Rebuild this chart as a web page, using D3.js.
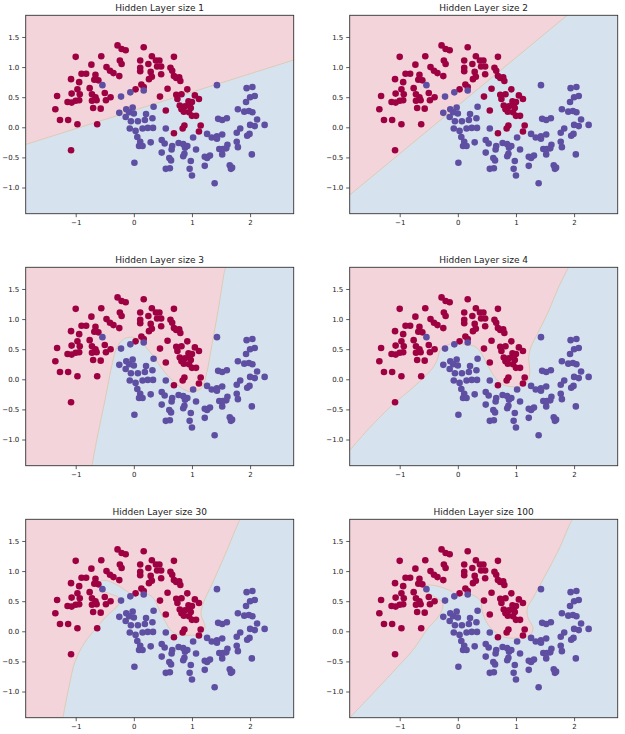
<!DOCTYPE html>
<html><head><meta charset="utf-8">
<script src="https://cdn.jsdelivr.net/npm/d3@7"></script>
<style>body{margin:0;background:#fff} svg text{font-family:"DejaVu Sans",sans-serif}</style>
</head><body><svg id="chart" width="625" height="734"></svg>
<script>
const titles = ["Hidden Layer size 1","Hidden Layer size 2","Hidden Layer size 3","Hidden Layer size 4","Hidden Layer size 30","Hidden Layer size 100"];
const xTicks = [-1, 0, 1, 2];
const yTicks = [-1.0, -0.5, 0.0, 0.5, 1.0, 1.5];
const xExtent = [-1.86, 2.75];
const yExtent = [-1.435, 1.86];

// class 0 (red) points
const class0Points = [[-0.28,1.36],[-0.21,1.30],[-0.14,1.28],[0.17,1.33],[-1.00,1.17],[-0.56,1.18],[0.31,1.18],[0.38,1.11],[0.44,1.11],[0.69,1.17],[-0.24,1.11],[-0.21,1.05],[0.11,1.11],[0.25,1.05],[0.40,1.01],[0.47,1.01],[-0.73,1.04],[-0.47,1.00],[-0.41,0.94],[-0.35,0.90],[-0.25,0.85],[0.11,0.99],[0.11,0.93],[0.29,0.92],[0.31,0.84],[0.26,0.80],[0.47,0.88],[0.63,0.99],[0.66,0.94],[0.69,0.85],[0.73,0.82],[0.78,0.83],[0.80,0.77],[-0.90,0.89],[-0.82,0.89],[-0.66,0.87],[-0.68,0.79],[-0.61,0.78],[-1.08,0.80],[-0.76,0.65],[-0.94,0.75],[-0.97,0.63],[-1.07,0.56],[-0.93,0.55],[0.13,0.71],[0.17,0.67],[0.03,0.63],[0.58,0.64],[0.92,0.63],[-0.72,0.55],[-0.66,0.50],[-0.50,0.57],[-1.32,0.52],[0.73,0.54],[0.82,0.55],[1.05,0.53],[0.75,0.47],[0.94,0.43],[1.00,0.42],[1.12,0.47],[-1.14,0.42],[-1.07,0.41],[-1.00,0.44],[-0.94,0.45],[-0.72,0.44],[-0.64,0.45],[-0.48,0.45],[0.45,0.51],[0.79,0.36],[0.88,0.35],[0.96,0.38],[0.98,0.32],[0.82,0.30],[0.86,0.26],[0.95,0.25],[1.00,0.19],[1.07,0.19],[-0.70,0.32],[-0.57,0.31],[-1.35,0.30],[0.55,0.28],[-1.27,0.12],[-1.13,0.12],[-0.97,0.05],[-0.63,0.05],[0.87,0.03],[0.84,-0.02],[1.15,0.03],[1.12,-0.07],[0.69,-0.10],[-1.08,-0.38],[-0.40,0.50]];

// class 1 (blue) points
const class1Points = [[-0.54,0.70],[-0.22,0.51],[-0.06,0.58],[0.17,0.61],[0.34,0.34],[1.43,0.70],[1.94,0.65],[2.04,0.67],[2.00,0.50],[2.08,0.52],[1.93,0.42],[1.79,0.30],[1.90,0.26],[1.98,0.27],[2.04,0.25],[-0.13,0.30],[-0.02,0.33],[-0.08,0.25],[0.00,0.23],[-0.25,0.24],[0.21,0.22],[-0.14,0.17],[-0.05,0.10],[0.07,0.10],[0.19,0.12],[0.32,0.15],[-0.07,-0.02],[0.03,-0.06],[0.15,-0.02],[0.24,-0.01],[0.33,-0.01],[0.55,-0.02],[0.06,-0.16],[0.11,-0.24],[0.09,-0.31],[0.15,-0.31],[0.29,-0.25],[0.48,-0.21],[0.53,-0.27],[0.66,-0.31],[0.65,-0.37],[0.77,-0.26],[0.85,-0.28],[0.88,-0.34],[0.92,-0.31],[1.02,-0.17],[1.07,-0.37],[0.48,-0.42],[0.87,-0.44],[0.85,-0.48],[0.61,-0.51],[0.64,-0.55],[0.01,-0.59],[0.98,-0.56],[0.55,-0.69],[0.62,-0.68],[0.96,-0.69],[1.00,-0.80],[1.45,0.14],[1.52,0.12],[1.60,0.15],[2.12,0.13],[2.00,0.04],[2.08,0.02],[2.25,0.04],[1.83,-0.02],[1.77,-0.09],[1.99,-0.11],[1.95,-0.14],[1.26,-0.11],[1.34,-0.17],[1.43,-0.15],[1.52,-0.12],[1.43,-0.19],[1.77,-0.24],[1.79,-0.33],[1.61,-0.29],[1.59,-0.35],[1.47,-0.36],[1.53,-0.36],[1.52,-0.45],[1.22,-0.49],[1.26,-0.51],[1.31,-0.47],[2.03,-0.45],[1.22,-0.64],[1.65,-0.63],[1.67,-0.69],[1.69,-0.67],[1.39,-0.93]];

// decision boundaries (data coordinates)
const boundary1 = [[-1.86,-0.285],[2.75,1.117]];
const boundary2 = [[-1.86,-1.125],[1.88,1.86]];
const boundary3 = [[-0.72,-1.435],[-0.636,-0.997],[-0.493,-0.332],[-0.367,0.276],[-0.292,0.525],[-0.161,0.675],[0.022,0.69],[0.165,0.58],[0.309,0.415],[0.538,0.11],[0.71,-0.056],[0.88,-0.178],[1.025,-0.21],[1.168,-0.14],[1.254,0.11],[1.34,0.553],[1.454,1.163],[1.569,1.827],[1.586,1.86]];
const boundary4 = [[-1.86,-1.18],[-1.54,-0.83],[-1.14,-0.44],[-0.74,-0.11],[-0.45,0.166],[-0.35,0.33],[-0.31,0.47],[-0.196,0.565],[0.005,0.6],[0.17,0.565],[0.28,0.55],[0.378,0.47],[0.52,0.22],[0.664,0],[0.807,-0.1],[1.036,-0.122],[1.18,-0.056],[1.237,0.11],[1.22,0.36],[1.254,0.525],[1.38,0.775],[1.55,1.107],[1.72,1.5],[1.895,1.84],[1.91,1.86]];
const boundary5 = [[-1.22,-1.435],[-1.12,-0.94],[-1.01,-0.5],[-0.84,-0.18],[-0.64,0.06],[-0.45,0.27],[-0.33,0.37],[-0.275,0.432],[-0.247,0.498],[-0.264,0.565],[-0.368,0.608],[-0.493,0.653],[-0.574,0.708],[-0.596,0.774],[-0.574,0.83],[-0.464,0.84],[-0.264,0.757],[-0.12,0.664],[0.022,0.598],[0.172,0.631],[0.297,0.586],[0.378,0.487],[0.435,0.359],[0.538,0.166],[0.653,0],[0.767,-0.055],[0.997,-0.066],[1.168,-0.028],[1.225,0.083],[1.156,0.276],[1.196,0.47],[1.34,0.774],[1.569,1.272],[1.797,1.799],[1.83,1.86]];
const boundary6 = [[-1.86,-1.435],[-1.426,-0.997],[-1.026,-0.581],[-0.768,-0.305],[-0.51,0.055],[-0.35,0.221],[-0.27,0.359],[-0.258,0.453],[-0.292,0.508],[-0.385,0.565],[-0.481,0.62],[-0.557,0.664],[-0.579,0.719],[-0.545,0.757],[-0.424,0.764],[-0.167,0.691],[-0.052,0.631],[0.034,0.591],[0.165,0.62],[0.292,0.586],[0.395,0.498],[0.418,0.332],[0.521,0.11],[0.663,-0.028],[0.807,-0.1],[1.036,-0.111],[1.237,-0.066],[1.294,0.055],[1.208,0.221],[1.196,0.387],[1.294,0.553],[1.495,0.914],[1.723,1.329],[1.952,1.827],[1.98,1.86]];
const boundaries = [boundary1, boundary2, boundary3, boundary4, boundary5, boundary6];

const pinkBg = "#f3d4da", blueBg = "#d6e3ef";
const red = "#9e0142", blue = "#5e4fa2";
const lefts = [25.7, 349.7], tops = [15.3, 267.3, 519.3];
const pw = 268, ph = 198.4;

const svg = d3.select("#chart");
titles.forEach((t, i) => {
  const col = i % 2, row = Math.floor(i / 2);
  const g = svg.append("g").attr("transform", `translate(${lefts[col]},${tops[row]})`);
  const x = d3.scaleLinear().domain(xExtent).range([0, pw]);
  const y = d3.scaleLinear().domain(yExtent).range([ph, 0]);
  const clipId = "clip" + i;
  g.append("clipPath").attr("id", clipId).append("rect").attr("width", pw).attr("height", ph);
  const plot = g.append("g").attr("clip-path", `url(#${clipId})`);
  plot.append("rect").attr("width", pw).attr("height", ph).attr("fill", blueBg);
  const b = boundaries[i];
  const line = d3.line().x(d => x(d[0])).y(d => y(d[1])).curve(d3.curveCatmullRom.alpha(0.5));
  const corners = [[xExtent[1], yExtent[1]], [xExtent[0], yExtent[1]], [xExtent[0], yExtent[0]]];
  const dFill = line(b) + corners.map(c => `L${x(c[0])},${y(c[1])}`).join("") + "Z";
  plot.append("path").attr("d", dFill).attr("fill", pinkBg);
  plot.append("path").attr("d", line(b)).attr("fill", "none").attr("stroke", "#dccbb4").attr("stroke-width", 1);
  plot.selectAll("circle.c0").data(class0Points).join("circle").attr("class", "c0")
    .attr("cx", d => x(d[0])).attr("cy", d => y(d[1])).attr("r", 3.3).attr("fill", red);
  plot.selectAll("circle.c1").data(class1Points).join("circle").attr("class", "c1")
    .attr("cx", d => x(d[0])).attr("cy", d => y(d[1])).attr("r", 3.3).attr("fill", blue);

  const xa = g.append("g").attr("transform", `translate(0,${ph})`)
    .call(d3.axisBottom(x).tickValues(xTicks).tickFormat(d3.format("d")).tickSize(3.5).tickPadding(3.3));
  const ya = g.append("g")
    .call(d3.axisLeft(y).tickValues(yTicks).tickFormat(d3.format(".1f")).tickSize(3.5).tickPadding(2.9));
  [xa, ya].forEach(a => {
    a.select(".domain").remove();
    a.selectAll(".tick line").attr("stroke", "#333").attr("stroke-width", 0.8);
    a.selectAll(".tick text").attr("fill", "#222").style("font-size", "7px").style("font-family", "DejaVu Sans");
  });
  g.append("rect").attr("width", pw).attr("height", ph).attr("fill", "none").attr("stroke", "#333").attr("stroke-width", 0.9);
  g.append("text").attr("x", pw / 2).attr("y", -4.8).attr("text-anchor", "middle")
    .style("font-size", "9px").attr("fill", "#222").text(t);
});
</script></body></html>
